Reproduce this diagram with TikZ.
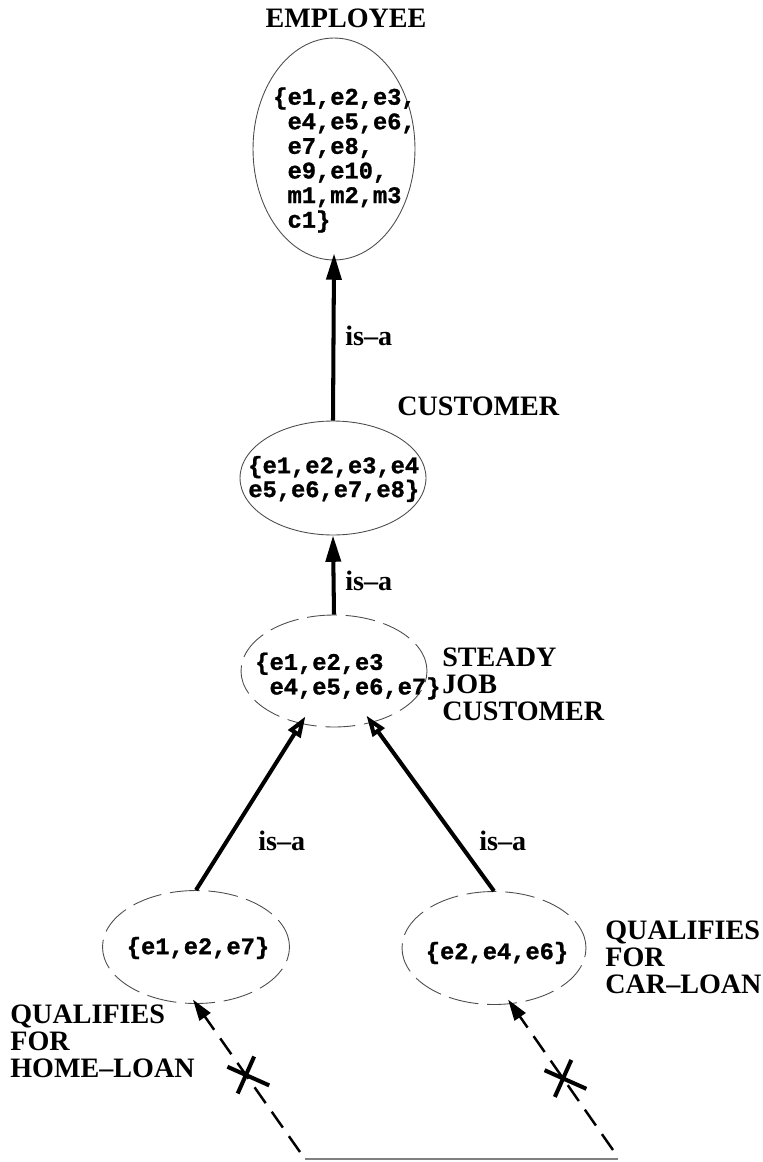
\documentclass[tikz,border=0pt]{standalone}
\usepackage{fontspec}
\setmainfont{Liberation Serif}
\setmonofont[BoldFeatures={FakeBold=1.2}]{Liberation Mono}
\usetikzlibrary{arrows.meta,shapes.geometric,shapes.misc}

\begin{document}
\begin{tikzpicture}[x=0.02cm,y=-0.02cm]
\tikzstyle{every node}+=[inner sep=0pt]
\tikzstyle{setbox}=[draw=black!70,line width=0.5pt,ellipse]
\tikzstyle{hypo}=[setbox,dash pattern=on 17pt off 5pt]
\tikzstyle{elems}=[font=\fontsize{13.5}{14}\selectfont\ttfamily\bfseries,align=left]
\tikzstyle{lbl}=[font=\fontsize{16}{15.3}\selectfont\bfseries,align=left]
\tikzstyle{isa}=[line width=2.3pt,-{Triangle[length=15pt,width=8.5pt]}]
\tikzstyle{isaopen}=[line width=2.3pt,-{Triangle[open,length=12pt,width=8pt]}]
\tikzstyle{qual}=[line width=1.4pt,dash pattern=on 11pt off 6pt,-{Triangle[length=12pt,width=7.5pt]}]
\tikzstyle{nogo}=[draw,solid,cross out,line width=2.3pt,minimum size=14pt,rotate=21]
\useasboundingbox (0,0) rectangle (763,1162);
% sets
\node[setbox,minimum width=3.24cm,minimum height=4.44cm] (emp) at (334,149) {};
\node[setbox,minimum width=3.72cm,minimum height=2.28cm] (cust) at (333,478) {};
\node[hypo,minimum width=3.72cm,minimum height=2.24cm] (steady) at (334,671) {};
\node[hypo,minimum width=3.74cm,minimum height=2.26cm] (home) at (196,947) {};
\node[hypo,minimum width=3.68cm,minimum height=2.26cm] (car) at (494,948) {};
% members
\node[elems,anchor=west] (empset) at (273,160) {\{e1,e2,e3,\\~e4,e5,e6,\\~e7,e8,\\~e9,e10,\\~m1,m2,m3\\~c1\}};
\node[elems,anchor=west,font=\fontsize{13.5}{12.3}\selectfont\ttfamily\bfseries] (custset) at (248,479) {\{e1,e2,e3,e4\\e5,e6,e7,e8\}};
\node[elems,anchor=west] (steadyset) at (255,676) {\{e1,e2,e3\\~e4,e5,e6,e7\}};
\node[elems] (homeset) at (198,948) {\{e1,e2,e7\}};
\node[elems] (carset) at (497,953) {\{e2,e4,e6\}};
% names
\node[lbl,anchor=base] (empname) at (346,28) {EMPLOYEE};
\node[lbl,anchor=base west] (custname) at (397,415) {CUSTOMER};
\node[lbl,anchor=north west] (steadyname) at (442,648) {STEADY\\JOB\\CUSTOMER};
\node[lbl,anchor=north west] (carname) at (605,921) {QUALIFIES\\FOR\\CAR--LOAN};
\node[lbl,anchor=north west] (homename) at (10,1005) {QUALIFIES\\FOR\\HOME--LOAN};
% is-a links
\draw[isa,shorten >=-4pt] (cust.north) -- (emp.south);
\draw[isa] (steady.north) -- (cust.south);
\draw[isaopen,shorten >=-5pt] (home.north) -- (steady);
\draw[isaopen,shorten >=-5pt] (car.north) -- (steady);
\node[lbl,anchor=base west] (isa1) at (345,345) {is--a};
\node[lbl,anchor=base west] (isa2) at (345,590) {is--a};
\node[lbl,anchor=base west] (isa3) at (258,850) {is--a};
\node[lbl,anchor=base west] (isa4) at (479,850) {is--a};
% qualifies links
\coordinate (baseL) at (300,1152);
\coordinate (baseR) at (613,1150);
\draw[qual,shorten >=-3pt] (baseL) -- node[nogo,pos=0.52] (xL) {} (home.south);
\draw[qual,shorten >=-3pt] (baseR) -- node[nogo,pos=0.49] (xR) {} (car.287);
% bottom edge
\coordinate (edgeL) at (305,1159);
\coordinate (edgeR) at (618,1159);
\draw[gray,line width=1pt] (edgeL) -- (edgeR);
\end{tikzpicture}
\end{document}
